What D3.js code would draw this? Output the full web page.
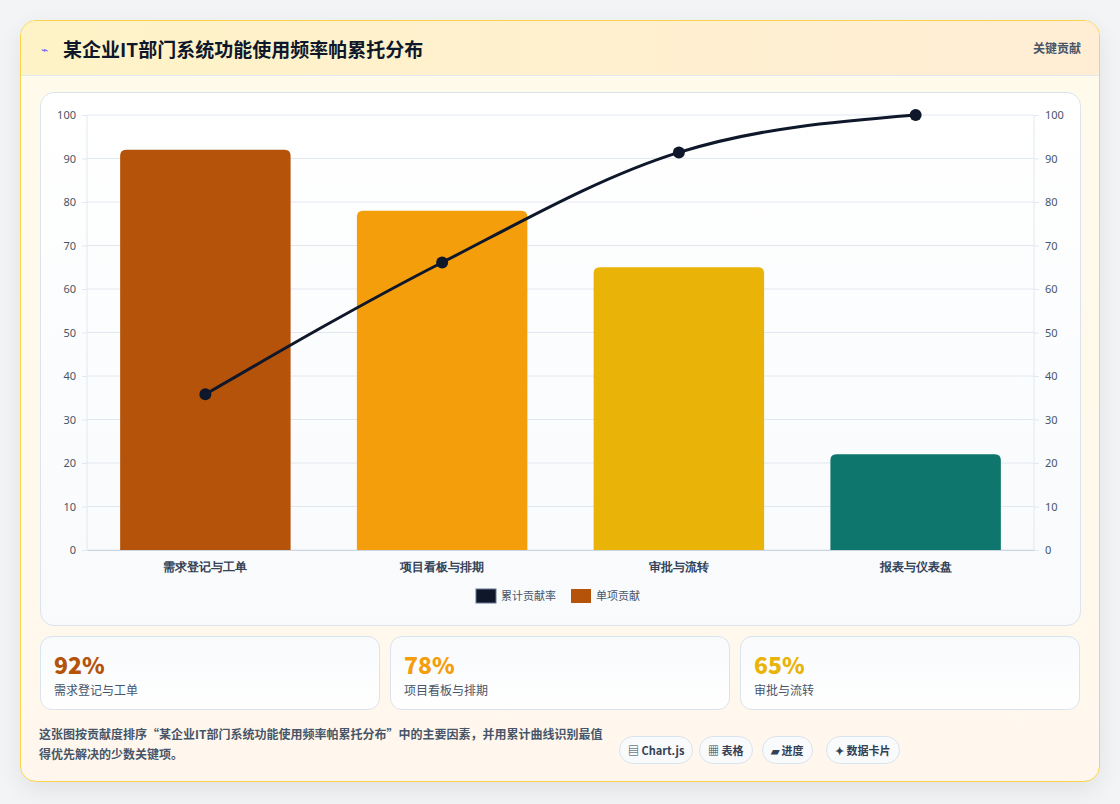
<!DOCTYPE html>
<html><head><meta charset="utf-8">
<script src="https://cdn.jsdelivr.net/npm/d3@7/dist/d3.min.js"></script>
<style>
body{margin:0;width:1120px;height:804px;background:#f3f4f6;font-family:"Noto Sans CJK SC","Noto Sans",sans-serif;overflow:hidden}
.card{position:absolute;left:20px;top:20px;width:1078px;height:760px;border:1px solid #fcd34d;border-radius:16px;background:linear-gradient(180deg,#fffbeb,#fff7ed);box-shadow:0 8px 24px rgba(0,0,0,.08);overflow:hidden}
.head{height:54px;border-bottom:1px solid #e2e8f0;background:linear-gradient(90deg,#fef3c7,#ffedd5);position:relative}
.title{position:absolute;left:42px;top:14px;font-size:19px;font-weight:700;color:#0f172a}
.icon{position:absolute;left:20px;top:19px;font-size:12px;color:#6366f1}
.tag{position:absolute;right:18px;top:18px;font-size:12px;color:#475569;font-weight:600}
.panel{position:absolute;left:19px;top:71px;width:1039px;height:532px;border:1px solid #dbe3ee;border-radius:14px;background:linear-gradient(180deg,#ffffff,#f8fafc)}
.stat{position:absolute;top:615px;width:338px;height:72px;border:1px solid #dbe3ee;border-radius:12px;background:linear-gradient(180deg,#f8fafc,#fff)}
.stat .v{position:absolute;left:13px;top:10px;font-size:23px;font-weight:800}
.stat .l{position:absolute;left:13px;top:44px;font-size:12px;color:#475569}
.foot{position:absolute;left:18px;top:703px;width:570px;font-size:12px;line-height:20px;color:#475569;font-weight:600}
.pill{position:absolute;top:715px;height:26px;line-height:26px;padding:0 8px;border:1px solid #dbe3ee;border-radius:14px;background:#f8fafc;font-size:11px;font-weight:700;color:#334155}
svg{position:absolute;left:0;top:0}
</style></head><body>
<div class="card">
<div class="head"><span class="icon">⌁</span><span class="title">某企业IT部门系统功能使用频率帕累托分布</span><span class="tag">关键贡献</span></div>
<div class="panel"></div>
<div class="stat" style="left:19px"><div class="v" style="color:#b45309">92%</div><div class="l">需求登记与工单</div></div>
<div class="stat" style="left:369px"><div class="v" style="color:#f59e0b">78%</div><div class="l">项目看板与排期</div></div>
<div class="stat" style="left:719px"><div class="v" style="color:#eab308">65%</div><div class="l">审批与流转</div></div>
<div class="foot">这张图按贡献度排序“某企业IT部门系统功能使用频率帕累托分布”中的主要因素，并用累计曲线识别最值得优先解决的少数关键项。</div>
<div class="pill" style="left:598px">▤ Chart.js</div>
<div class="pill" style="left:678px">▦ 表格</div>
<div class="pill" style="left:741px">▰ 进度</div>
<div class="pill" style="left:805px">✦ 数据卡片</div>
</div>
<svg id="c" width="1120" height="804"></svg>
<script>
const categories=["需求登记与工单","项目看板与排期","审批与流转","报表与仪表盘"];
const values=[92,78,65,22];
const cumulative=[35.8,66.1,91.4,100];
const colors=["#b45309","#f59e0b","#eab308","#0f766e"];
const ticks=[0,10,20,30,40,50,60,70,80,90,100];
const svg=d3.select("#c");
const L=87,R=1034,T=115,B=550;
const x=d3.scaleBand().domain(categories).range([L,R]).paddingInner(0.28).paddingOuter(0.14);
const y=d3.scaleLinear().domain([0,100]).range([B,T]);
const g=svg.append("g");
g.selectAll(".gl").data(ticks).join("line").attr("x1",L).attr("x2",R).attr("y1",d=>y(d)).attr("y2",d=>y(d)).attr("stroke","#e2e8f0");
g.append("line").attr("x1",L).attr("x2",L).attr("y1",T).attr("y2",B).attr("stroke","#e2e8f0");
g.append("line").attr("x1",R).attr("x2",R).attr("y1",T).attr("y2",B).attr("stroke","#e2e8f0");
const ax=d3.axisLeft(y).tickValues(ticks).tickSize(5).tickPadding(6);
const ay=svg.append("g").attr("transform",`translate(${L},0)`).call(ax);
const ar=svg.append("g").attr("transform",`translate(${R},0)`).call(d3.axisRight(y).tickValues(ticks).tickSize(5).tickPadding(6));
[ay,ar].forEach(a=>{a.select(".domain").remove();a.selectAll("line").attr("stroke","#e2e8f0");a.selectAll("text").attr("fill","#475569").style("font-size","11px").style("font-family","Noto Sans, sans-serif");});
const axb=svg.append("g").attr("transform",`translate(0,${B})`).call(d3.axisBottom(x).tickSize(0).tickPadding(12));
axb.select(".domain").attr("stroke","#cbd5e1");
axb.selectAll("text").attr("fill","#334155").style("font-size","12px").style("font-weight","600");
svg.selectAll(".bar").data(values).join("path").attr("fill",(d,i)=>colors[i]).attr("d",(d,i)=>{
 const x0=x(categories[i]),w=x.bandwidth(),y0=y(d),r=6;
 return `M${x0},${B}V${y0+r}Q${x0},${y0} ${x0+r},${y0}H${x0+w-r}Q${x0+w},${y0} ${x0+w},${y0+r}V${B}Z`;});
const pts=cumulative.map((c,i)=>[x(categories[i])+x.bandwidth()/2,y(c)]);
svg.append("path").attr("d",d3.line().curve(d3.curveMonotoneX)(pts)).attr("fill","none").attr("stroke","#0f172a").attr("stroke-width",3);
svg.selectAll(".pt").data(pts).join("circle").attr("cx",d=>d[0]).attr("cy",d=>d[1]).attr("r",6).attr("fill","#0f172a");
const lg=svg.append("g").attr("transform","translate(476,589)");
lg.append("rect").attr("width",20).attr("height",14).attr("fill","#0f172a").attr("stroke","#64748b");
lg.append("text").attr("x",25).attr("y",11).text("累计贡献率").attr("fill","#475569").style("font-size","11px");
lg.append("rect").attr("x",95).attr("width",20).attr("height",14).attr("fill","#b45309");
lg.append("text").attr("x",120).attr("y",11).text("单项贡献").attr("fill","#475569").style("font-size","11px");
</script></body></html>
